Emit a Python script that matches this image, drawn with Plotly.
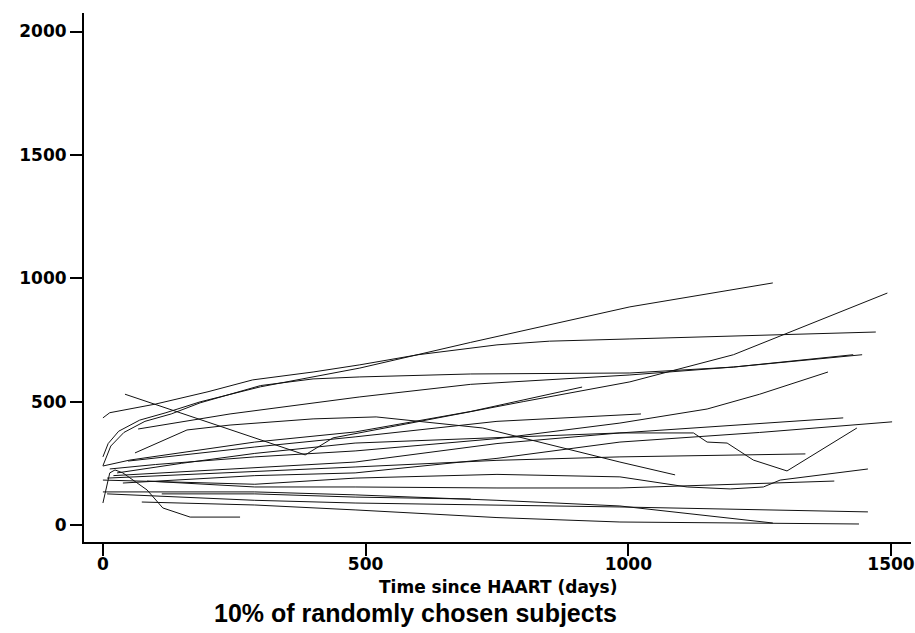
import plotly.graph_objects as go

# Each subject: (days since HAART, CD4 value)
s01_x = [0, 10, 30, 70, 120, 185, 300, 489, 700, 1003, 1275]
s01_y = [276, 330, 380, 425, 455, 499, 560, 636, 740, 884, 981]
s02_x = [0, 13, 100, 200, 285, 400, 489, 600, 750, 850, 1003, 1471]
s02_y = [434, 455, 490, 540, 588, 620, 649, 690, 730, 745, 754, 782]
s03_x = [0, 15, 40, 80, 130, 185, 300, 400, 489, 700, 1003, 1200, 1445]
s03_y = [240, 320, 375, 420, 450, 495, 565, 592, 600, 612, 616, 640, 690]
s04_x = [67, 242, 489, 700, 1003, 1200, 1428]
s04_y = [389, 450, 519, 570, 608, 640, 690]
s05_x = [42, 385, 438, 600, 800, 1003, 1200, 1493]
s05_y = [530, 284, 353, 420, 500, 580, 690, 940]
s06_x = [0, 51, 289, 480, 700, 912]
s06_y = [239, 263, 336, 377, 460, 559]
s07_x = [48, 289, 480, 750, 1024]
s07_y = [259, 316, 357, 420, 450]
s08_x = [61, 160, 242, 400, 520, 723, 984, 1089]
s08_y = [292, 385, 405, 430, 438, 393, 255, 203]
s09_x = [13, 100, 289, 480, 750, 984, 1150, 1250, 1380]
s09_y = [227, 245, 276, 300, 350, 413, 470, 530, 620]
s10_x = [27, 150, 289, 480, 984, 1409]
s10_y = [211, 250, 290, 332, 373, 434]
s11_x = [20, 289, 480, 750, 984, 1124, 1150, 1188, 1200, 1238, 1302, 1435]
s11_y = [200, 232, 255, 330, 373, 373, 336, 332, 316, 263, 219, 393]
s12_x = [38, 289, 480, 750, 984, 1250, 1502]
s12_y = [170, 200, 211, 270, 336, 375, 418]
s13_x = [8, 289, 480, 750, 984, 1337]
s13_y = [190, 215, 235, 262, 276, 288]
s14_x = [0, 289, 480, 750, 984, 1112, 1194, 1257, 1289, 1456]
s14_y = [182, 165, 190, 205, 195, 154, 146, 154, 182, 227]
s15_x = [84, 289, 480, 750, 984, 1392]
s15_y = [178, 154, 154, 150, 150, 178]
s16_x = [8, 289, 480, 750, 984, 1456]
s16_y = [126, 100, 89, 80, 73, 53]
s17_x = [0, 289, 480, 750, 984, 1275]
s17_y = [134, 134, 122, 100, 77, 8]
s18_x = [74, 289, 480, 750, 984, 1200, 1439]
s18_y = [93, 81, 61, 30, 12, 8, 4]
s19_x = [0, 13, 23, 38, 84, 114, 166, 261]
s19_y = [89, 211, 223, 211, 142, 69, 32, 32]
s20_x = [112, 289, 480, 700]
s20_y = [126, 126, 113, 105]

subjects = [
    (s01_x, s01_y), (s02_x, s02_y), (s03_x, s03_y), (s04_x, s04_y),
    (s05_x, s05_y), (s06_x, s06_y), (s07_x, s07_y), (s08_x, s08_y),
    (s09_x, s09_y), (s10_x, s10_y), (s11_x, s11_y), (s12_x, s12_y),
    (s13_x, s13_y), (s14_x, s14_y), (s15_x, s15_y), (s16_x, s16_y),
    (s17_x, s17_y), (s18_x, s18_y), (s19_x, s19_y), (s20_x, s20_y),
]

x_ticks = [0, 500, 1000, 1500]
y_ticks = [0, 500, 1000, 1500, 2000]

TICK_FONT = dict(family="DejaVu Sans", size=17, color="black", weight="bold")
TITLE_FONT = dict(family="DejaVu Sans", size=17, color="black", weight="bold")
NOTE_FONT = dict(family="Liberation Sans, Arial, sans-serif", size=25, color="black", weight="bold")

fig = go.Figure()
for xs, ys in subjects:
    fig.add_trace(go.Scatter(x=xs, y=ys, mode="lines",
                             line=dict(color="#111111", width=1),
                             hoverinfo="skip", showlegend=False))

fig.update_layout(
    width=915, height=633,
    margin=dict(l=84, r=4, t=13, b=91, autoexpand=False),
    paper_bgcolor="white", plot_bgcolor="white",
    xaxis=dict(range=[-36, 1538], tickvals=x_ticks, showgrid=False, zeroline=False,
               showline=True, linecolor="black", linewidth=2, automargin=False,
               ticks="outside", ticklen=12, tickwidth=1.5, tickcolor="black",
               tickfont=TICK_FONT, ticklabelstandoff=-6),
    yaxis=dict(range=[-69, 2075], tickvals=y_ticks, showgrid=False, zeroline=False,
               showline=True, linecolor="black", linewidth=2, automargin=False,
               ticks="outside", ticklen=12, tickwidth=1.5, tickcolor="black",
               tickfont=TICK_FONT),
    annotations=[
        dict(text="Time since HAART (days)", xref="paper", yref="paper",
             x=0.5, y=-0.0855, xanchor="center", yanchor="middle",
             showarrow=False, font=TITLE_FONT),
        dict(text="10% of randomly chosen subjects", xref="paper", yref="paper",
             x=0.401, y=-0.134, xanchor="center", yanchor="middle",
             showarrow=False, font=NOTE_FONT),
    ],
)

fig.write_html("out.html")
